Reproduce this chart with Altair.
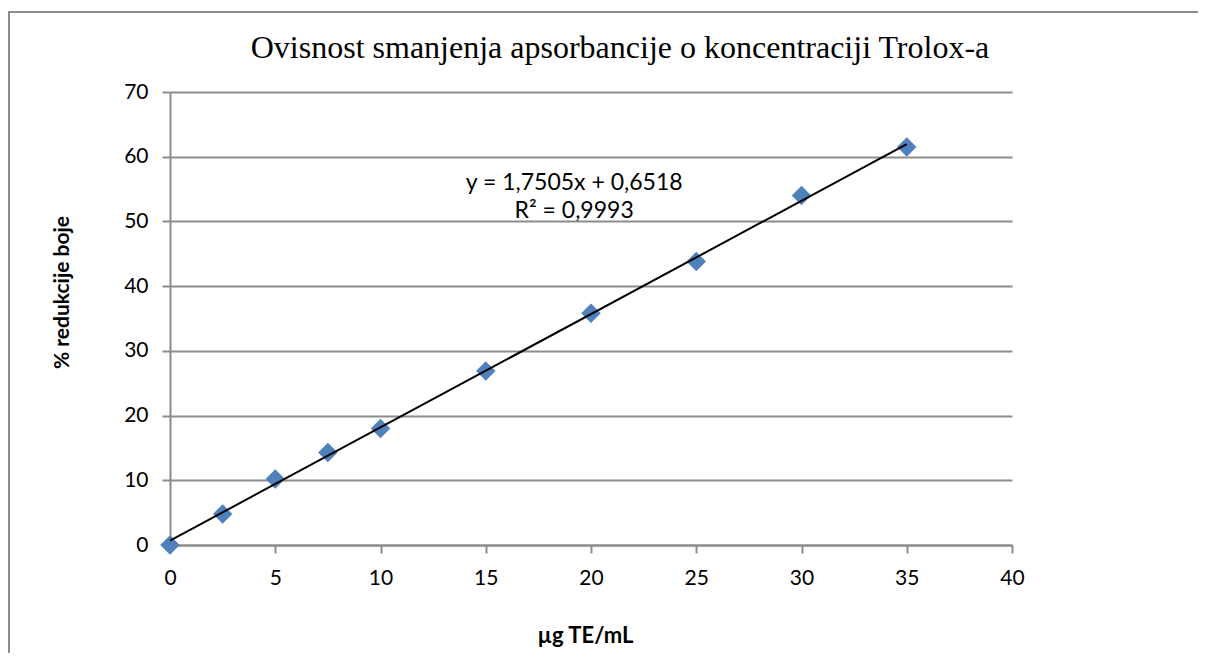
import altair as alt
import pandas as pd

# data
conc = [0, 2.5, 5, 7.5, 10, 15, 20, 25, 30, 35]
reduction = [0.0, 4.8, 10.2, 14.3, 18.0, 26.9, 35.8, 43.8, 54.0, 61.5]

eq_lines = ["y = 1,7505x + 0,6518", "R² = 0,9993"]
eq_x = [19.2, 19.2]
eq_y = [55.9, 51.6]

title_text = "Ovisnost smanjenja apsorbancije o koncentraciji Trolox-a"
x_title = "µg TE/mL"
y_title = "% redukcije boje"

df = pd.DataFrame({"x": conc, "y": reduction})
eq_df = pd.DataFrame({"label": eq_lines, "x": eq_x, "y": eq_y})

GRAY = "#8c8c8c"
FONT = "Lato"

xs = alt.Scale(domain=[0, 40], nice=False, zero=True)
ys = alt.Scale(domain=[0, 70], nice=False)

xaxis = alt.Axis(
    values=[0, 5, 10, 15, 20, 25, 30, 35, 40], title=x_title, grid=False,
    domainColor=GRAY, domainWidth=2, tickColor=GRAY, tickWidth=2, tickSize=8,
    labelFont=FONT, labelFontSize=21, labelColor="black", labelPadding=14,
    titleFont=FONT, titleFontSize=22, titleFontWeight="bold", titleColor="black",
    titlePadding=37, labelFlush=False, titleX=415,
)
yaxis = alt.Axis(
    values=[0, 10, 20, 30, 40, 50, 60, 70], title=y_title, grid=True,
    gridColor=GRAY, gridWidth=2, gridOpacity=1,
    domainColor=GRAY, domainWidth=2, tickColor=GRAY, tickWidth=2, tickSize=8,
    labelFont=FONT, labelFontSize=21, labelColor="black", labelPadding=14,
    titleFont=FONT, titleFontSize=21, titleFontWeight="bold", titleColor="black",
    titlePadding=51, titleY=200,
)

base = alt.Chart(df)

points = base.mark_point(shape="diamond", filled=True, size=380, color="#4F81BD", opacity=1).encode(
    x=alt.X("x:Q", scale=xs, axis=xaxis),
    y=alt.Y("y:Q", scale=ys, axis=yaxis),
)

trend = base.transform_regression("x", "y", method="linear").mark_line(
    color="black", strokeWidth=2
).encode(x=alt.X("x:Q", scale=xs), y=alt.Y("y:Q", scale=ys))

eq = alt.Chart(eq_df).mark_text(font=FONT, fontSize=23, color="black", baseline="middle").encode(
    x=alt.X("x:Q", scale=xs), y=alt.Y("y:Q", scale=ys), text="label:N"
)

title = alt.Chart(pd.DataFrame({"t": [title_text]})).mark_text(
    font="Liberation Serif", fontSize=32, color="black", baseline="middle", align="center"
).encode(x=alt.value(450), y=alt.value(-44), text="t:N")

frame = pd.DataFrame({"a": [0]})
border_top = alt.Chart(frame).mark_rule(color=GRAY, strokeWidth=2, clip=False).encode(
    x=alt.value(-161), x2=alt.value(1030), y=alt.value(-80)
)
border_left = alt.Chart(frame).mark_rule(color=GRAY, strokeWidth=2, clip=False).encode(
    x=alt.value(-161), y=alt.value(-81), y2=alt.value(575)
)

chart = alt.layer(border_top, border_left, points, trend, eq, title).properties(
    width=842, height=453,
    autosize=alt.AutoSizeParams(type="none"),
    padding={"left": 162, "top": 84, "right": 186, "bottom": 108},
).configure_view(strokeOpacity=0)

chart.save("out.html", embed_options={"renderer": "svg", "actions": False})
